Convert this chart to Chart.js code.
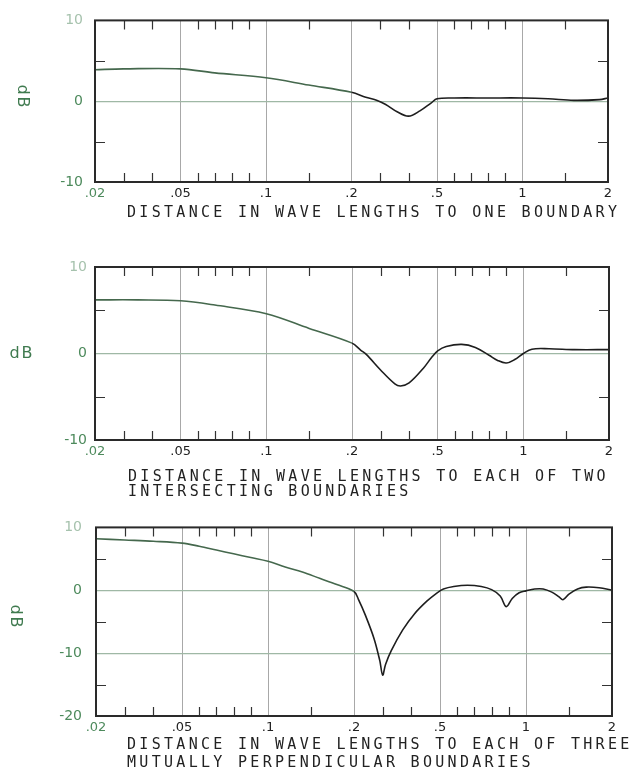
<!DOCTYPE html>
<html>
<head>
<meta charset="utf-8">
<script src="https://cdn.jsdelivr.net/npm/chart.js@4.4.1/dist/chart.umd.min.js"></script>
<style>
  html, body { margin: 0; padding: 0; background: #fff; }
  .panel { position: absolute; left: 0; width: 634px; }
</style>
</head>
<body>
<div class="panel" style="top:0;height:235px"><canvas id="c1"></canvas></div>
<div class="panel" style="top:250px;height:250px"><canvas id="c2"></canvas></div>
<div class="panel" style="top:505px;height:270px"><canvas id="c3"></canvas></div>
<script>
// x axis: the labelled distances sit at equal spacing, linear in between
const xLabels = ['.02', '.05', '.1', '.2', '.5', '1', '2'];
const xEdges = [0.02, 0.05, 0.1, 0.2, 0.5, 1, 2];
const xMinor = [0.03, 0.04, 0.06, 0.07, 0.08, 0.09, 0.15, 0.3, 0.4, 0.6, 0.7, 0.8, 0.9, 1.5];
const yTitle = 'dB';

// one boundary
const oneDist = [0.02, 0.03, 0.05, 0.07, 0.1, 0.15, 0.2, 0.25, 0.29, 0.32, 0.36, 0.4, 0.44, 0.48, 0.5, 0.6, 0.8, 1.0, 1.3, 1.6, 1.9, 2.0];
const oneDb   = [3.9, 4.0, 4.0, 3.5, 2.9, 2.0, 1.1, 0.5, 0.1, -0.4, -1.3, -1.85, -1.2, -0.2, 0.3, 0.4, 0.4, 0.4, 0.3, 0.1, 0.2, 0.4];
const oneTicks = [-10, 0, 10];
const oneTitle = ['DISTANCE IN WAVE LENGTHS TO ONE BOUNDARY'];

// two intersecting boundaries
const twoDist = [0.02, 0.035, 0.05, 0.07, 0.1, 0.15, 0.2, 0.23, 0.25, 0.3, 0.35, 0.37, 0.4, 0.45, 0.48, 0.5, 0.55, 0.64, 0.72, 0.8, 0.85, 0.9, 0.95, 1.0, 1.1, 1.3, 1.6, 2.0];
const twoDb   = [6.2, 6.2, 6.1, 5.6, 4.6, 2.9, 1.2, 0.4, -0.1, -1.9, -3.5, -3.75, -3.4, -1.7, -0.4, 0.3, 0.8, 1.05, 0.7, -0.2, -0.8, -1.1, -0.7, 0.0, 0.5, 0.55, 0.45, 0.45];
const twoTicks = [-10, 0, 10];
const twoTitle = ['DISTANCE IN WAVE LENGTHS TO EACH OF TWO', 'INTERSECTING BOUNDARIES'];

// three mutually perpendicular boundaries
const threeDist = [0.02, 0.03, 0.04, 0.05, 0.06, 0.07, 0.08, 0.09, 0.1, 0.12, 0.14, 0.16, 0.18, 0.2, 0.215, 0.24, 0.27, 0.29, 0.3, 0.31, 0.33, 0.37, 0.41, 0.455, 0.49, 0.52, 0.58, 0.66, 0.74, 0.8, 0.85, 0.885, 0.92, 0.96, 1.0, 1.1, 1.2, 1.3, 1.38, 1.43, 1.5, 1.6, 1.7, 1.85, 2.0];
const threeDb   = [8.2, 8.0, 7.8, 7.5, 7.0, 6.4, 5.8, 5.2, 4.6, 3.7, 2.9, 1.9, 0.9, -0.2, -1.4, -4.0, -7.7, -11.2, -13.5, -11.8, -9.6, -6.3, -3.8, -1.7, -0.4, 0.2, 0.6, 0.8, 0.6, 0.1, -0.9, -2.6, -1.3, -0.4, -0.1, 0.2, 0.2, -0.3, -1.0, -1.5, -0.6, 0.2, 0.5, 0.4, 0.0];
const threeTicks = [-20, -10, 0, 10];
const threeTitle = ['DISTANCE IN WAVE LENGTHS TO EACH OF THREE', 'MUTUALLY PERPENDICULAR BOUNDARIES'];

const GREEN = '#4d8a5c';
const FAINT = '#a6c2ad';

function pos(d) {
  for (let i = 0; i < xEdges.length - 1; i++) {
    if (d <= xEdges[i + 1]) return i + (d - xEdges[i]) / (xEdges[i + 1] - xEdges[i]);
  }
  return xEdges.length - 1;
}

const points = (dist, db) => dist.map((d, i) => ({ x: pos(d), y: db[i] }));

// frame, inside tick marks, dB label and the lettered axis title
const panelPlugin = {
  id: 'panel',
  afterDraw(chart, args, o) {
    const { ctx, chartArea: a, scales: { x, y } } = chart;
    ctx.save();
    ctx.strokeStyle = '#333';
    ctx.lineWidth = 1.2;
    ctx.beginPath();
    xMinor.forEach(d => {
      const px = Math.round(x.getPixelForValue(pos(d))) + 0.5;
      ctx.moveTo(px, a.top); ctx.lineTo(px, a.top + 9);
      ctx.moveTo(px, a.bottom); ctx.lineTo(px, a.bottom - 9);
    });
    o.yMinor.forEach(v => {
      const py = Math.round(y.getPixelForValue(v)) + 0.5;
      ctx.moveTo(a.left, py); ctx.lineTo(a.left + 10, py);
      ctx.moveTo(a.right, py); ctx.lineTo(a.right - 10, py);
    });
    ctx.stroke();

    ctx.lineWidth = 2;
    ctx.strokeStyle = '#2a2a2a';
    ctx.strokeRect(a.left, a.top, a.width, a.height);

    ctx.save();
    ctx.fillStyle = '#3f7a4f';
    ctx.font = '16px "DejaVu Sans"';
    ctx.letterSpacing = '2px';
    ctx.textAlign = 'center';
    ctx.textBaseline = 'middle';
    ctx.translate(o.db.x, o.db.y);
    if (o.db.rotate) ctx.rotate(Math.PI / 2);
    ctx.fillText(yTitle, 0, 0);
    ctx.restore();

    ctx.fillStyle = '#222';
    ctx.font = '15px "DejaVu Sans Mono"';
    ctx.letterSpacing = '3.3px';
    ctx.textAlign = 'left';
    ctx.textBaseline = 'middle';
    o.title.forEach((t, i) => ctx.fillText(t, o.titleX, a.bottom + o.titleDy[i]));
    ctx.restore();
  }
};

function makeChart(id, data, yTicks, yGridAt, cfg) {
  const yMin = yTicks[0], yMax = yTicks[yTicks.length - 1];
  return new Chart(document.getElementById(id), {
    type: 'line',
    data: {
      datasets: [{
        data,
        borderColor: '#1e1e1e',
        borderWidth: 1.6,
        pointRadius: 0,
        tension: 0.35,
        segment: { borderColor: c => c.p0.parsed.x < 3 ? '#45684d' : '#1e1e1e' }
      }]
    },
    options: {
      animation: false,
      responsive: true,
      maintainAspectRatio: false,
      layout: { padding: cfg.padding },
      plugins: {
        legend: { display: false },
        tooltip: { enabled: false },
        panel: cfg.panel
      },
      scales: {
        x: {
          type: 'linear', min: 0, max: xLabels.length - 1,
          afterBuildTicks: s => { s.ticks = xLabels.map((_, i) => ({ value: i })); },
          afterFit: s => { s.height = cfg.xHeight; },
          grid: {
            color: c => (c.index === 0 || c.index === xLabels.length - 1) ? 'transparent' : '#a8a8a8',
            lineWidth: 1, drawTicks: false
          },
          border: { display: false },
          ticks: {
            padding: 4, maxRotation: 0, autoSkip: false,
            font: { family: 'DejaVu Sans', size: 13 },
            color: c => c.index === 0 ? GREEN : '#222',
            callback: v => xLabels[v]
          }
        },
        y: {
          min: yMin, max: yMax,
          afterBuildTicks: s => { s.ticks = yTicks.map(v => ({ value: v })); },
          afterFit: s => { s.width = cfg.yWidth; },
          grid: {
            color: c => yGridAt.includes(c.tick.value) ? '#9fb8a5' : 'transparent',
            lineWidth: 1.2, drawTicks: false
          },
          border: { display: false },
          ticks: {
            padding: cfg.yPad,
            font: { family: 'DejaVu Sans', size: 14 },
            color: c => c.tick.value === yMax ? FAINT : GREEN,
            callback: v => String(v)
          }
        }
      }
    },
    plugins: [panelPlugin]
  });
}

makeChart('c1', points(oneDist, oneDb), oneTicks, [0], {
  padding: { top: 13, right: 26, left: 0, bottom: 0 },
  xHeight: 53, yWidth: 95, yPad: 12,
  panel: { yMinor: [-5, 5], db: { x: 22, y: 97, rotate: true }, title: oneTitle, titleX: 127, titleDy: [31] }
});

makeChart('c2', points(twoDist, twoDb), twoTicks, [0], {
  padding: { top: 17, right: 25, left: 0, bottom: 0 },
  xHeight: 60, yWidth: 95, yPad: 8,
  panel: { yMinor: [-5, 5], db: { x: 22, y: 104, rotate: false }, title: twoTitle, titleX: 128, titleDy: [37, 52] }
});

makeChart('c3', points(threeDist, threeDb), threeTicks, [0, -10], {
  padding: { top: 20, right: 22, left: 0, bottom: 0 },
  xHeight: 59, yWidth: 96, yPad: 14,
  panel: { yMinor: [-15, -5, 5], db: { x: 15, y: 112, rotate: true }, title: threeTitle, titleX: 127, titleDy: [29, 47] }
});
</script>
</body>
</html>
